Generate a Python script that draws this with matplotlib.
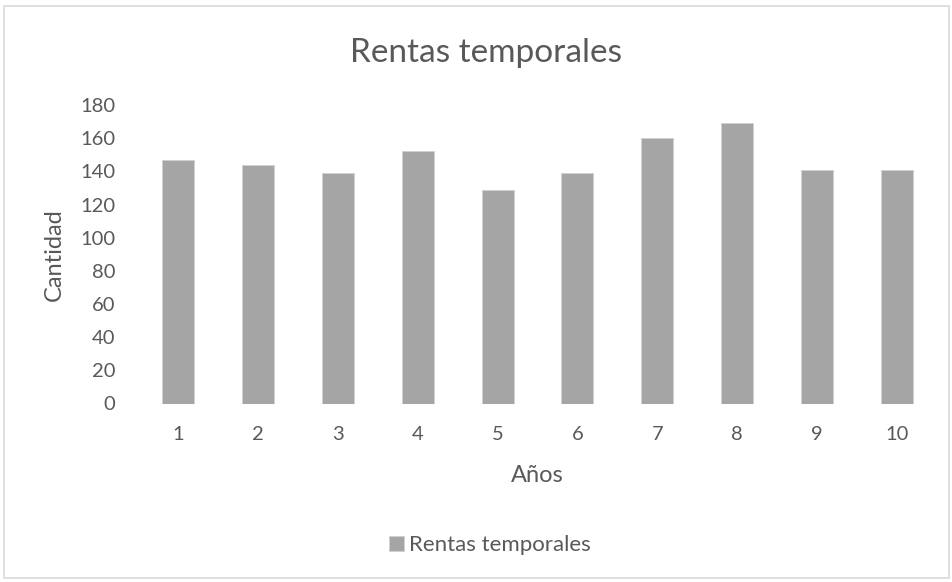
import numpy as np
import matplotlib.pyplot as plt
from matplotlib.patches import Rectangle

plt.rcParams['font.family'] = ['Lato', 'DejaVu Sans']

anios = [1, 2, 3, 4, 5, 6, 7, 8, 9, 10]
rentas = [147, 144, 139, 152, 129, 139, 160, 169, 141, 141]
yticks = [0, 20, 40, 60, 80, 100, 120, 140, 160, 180]

gris_txt = '#595959'
gris_bar = '#a5a5a5'

W, H = 953, 582
fig = plt.figure(figsize=(W/100, H/100), dpi=100)
fig.patches.append(Rectangle((4/W, 1 - 578/H), 945/W, 572/H,
                             transform=fig.transFigure, fill=False,
                             edgecolor='#d9d9d9', linewidth=1.2))

ax_l, ax_b, ax_w, ax_h = 138, 403.5, 799, 298.5
ax = fig.add_axes([ax_l/W, 1 - ax_b/H, ax_w/W, ax_h/H])
x = np.arange(len(anios))
bars = ax.bar(x, rentas, width=0.4, color=gris_bar, edgecolor='#d0d0d0',
              linewidth=0.6, label='Rentas temporales')
ax.set_xlim(-0.5, len(anios) - 0.5)
ax.set_ylim(0, 180)
ax.set_yticks(yticks)
ax.set_xticks(x)
ax.set_xticklabels([str(a) for a in anios])
for s in ax.spines.values():
    s.set_visible(False)
ax.tick_params(length=0, labelsize=14.5, colors=gris_txt)
ax.tick_params(axis='x', pad=16)
ax.tick_params(axis='y', pad=16.5)

ax.set_xlabel('Años', fontsize=17, color=gris_txt, va='baseline')
ax.xaxis.set_label_coords(0.5, -(482 - ax_b)/ax_h)
ax.set_ylabel('Cantidad', fontsize=17, color=gris_txt, va='center')
ax.yaxis.set_label_coords((54 - ax_l)/ax_w, 0.5)

fig.text(486.5/W, 1 - 62/H, 'Rentas temporales', fontsize=24,
         color=gris_txt, ha='center', va='baseline')

fig.legend(handles=[bars], loc='center', bbox_to_anchor=(490/W, 1 - 545/H),
           frameon=False, fontsize=16, labelcolor=gris_txt, handlelength=0.68,
           handleheight=0.68, handletextpad=0.25)

fig.savefig('out.png', dpi=100)
